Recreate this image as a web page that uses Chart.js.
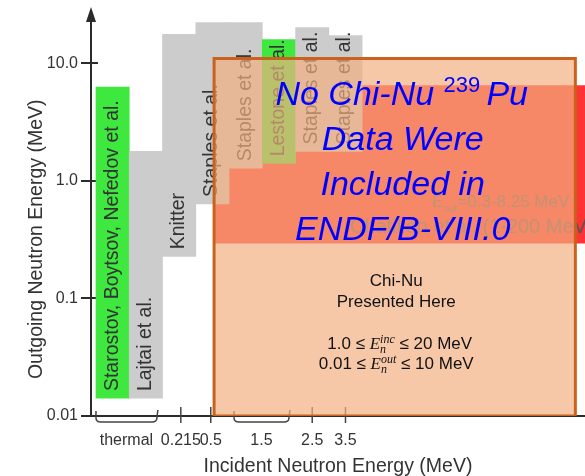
<!DOCTYPE html>
<html>
<head>
<meta charset="utf-8">
<title>Pu-239 PFNS measurements</title>
<script src="https://cdn.jsdelivr.net/npm/chart.js@4.4.1/dist/chart.umd.min.js"></script>
<style>
  html, body { margin: 0; padding: 0; background: #fff; }
  canvas { display: block; }
</style>
</head>
<body>
<canvas id="coverageChart" width="585" height="476"></canvas>
<script>
// one x unit per experiment column on the schematic incident-energy axis
const colNames = ['Starostov, Boytsov, Nefedov et al.', 'Lajtai et al.', 'Knitter', 'Staples et al.',
    'Staples et al.', 'Lestone et al.', 'Staples et al.', 'Staples et al.'];
const colX = [0.5, 1.5, 2.5, 3.5, 4.5, 5.5, 6.5, 7.5];
const colOutLow = [0.0142, 0.0142, 0.228, 0.637, 1.28, 1.41, 1.78, 1.78];
const colOutHigh = [6.28, 1.78, 17.6, 22.2, 22.2, 15.9, 20.1, 17.2];
const colInEndf = [true, false, false, false, false, true, false, false];

// Chatillon et al. (1-200 MeV), Eout 0.3-8.25 MeV
const chatInc = [3.55, 16];
const chatOut = [0.294, 6.5];

// Chi-Nu, presented here
const chiNuInc = [3.55, 14.41];
const chiNuOut = [0.01, 11];

const xTickLabels = ['thermal', '0.215', '0.5', '1.5', '2.5', '3.5'];
const xTickFrom = [0, 2.55, 3.45, 4.15, 6.5, 7.5];
const xTickTo = [1.83, 2.55, 3.45, 5.8, 6.5, 7.5];

const yTickValues = [0.01, 0.1, 1, 10];
const yTickLabels = ['0.01', '0.1', '1.0', '10.0'];

const FONT = '"Liberation Sans", Arial, sans-serif';
const SERIF = '"Liberation Serif", "Times New Roman", serif';
const TEXT = '#333';
const AXIS = '#2b2b2b';
const GREEN = '#3ee83e';
const GRAY = '#cccccc';

Chart.defaults.font.family = FONT;

function rectPoints(xr, yr) {
    return [
        {x: xr[0], y: yr[0]}, {x: xr[0], y: yr[1]},
        {x: xr[1], y: yr[1]}, {x: xr[1], y: yr[0]},
        {x: xr[0], y: yr[0]}
    ];
}

function runWidth(ctx, r) {
    ctx.font = r.font;
    if (r.sup !== undefined) {
        return Math.max(ctx.measureText(r.sup).width, ctx.measureText(r.sub).width);
    }
    return ctx.measureText(r.text).width;
}

function drawRuns(ctx, runs, x, y, align) {
    const widths = runs.map(r => runWidth(ctx, r));
    const total = widths.reduce((a, b) => a + b, 0);
    let cx = align === 'center' ? x - total / 2 : x;
    ctx.textAlign = 'left';
    ctx.textBaseline = 'alphabetic';
    runs.forEach((r, i) => {
        ctx.font = r.font;
        if (r.sup !== undefined) {
            ctx.fillText(r.sup, cx, y - 6.5);
            ctx.fillText(r.sub, cx, y + 4);
        } else {
            ctx.fillText(r.text, cx, y + (r.dy || 0));
        }
        cx += widths[i];
    });
}

const schematicPlugin = {
    id: 'schematic',
    beforeDatasetsDraw(chart) {
        const ctx = chart.ctx;
        const xs = chart.scales.x;
        const ys = chart.scales.y;
        const axisY = ys.bottom;
        const axisX = xs.left;
        ctx.save();
        ctx.strokeStyle = AXIS;
        ctx.fillStyle = AXIS;

        // y tick marks cross the axis
        ctx.lineWidth = 2;
        yTickValues.forEach(v => {
            const py = Math.round(ys.getPixelForValue(v));
            ctx.beginPath();
            ctx.moveTo(axisX, py);
            ctx.lineTo(axisX + 7, py);
            ctx.stroke();
        });

        // arrow head on the y axis
        ctx.beginPath();
        ctx.moveTo(axisX, 7);
        ctx.lineTo(axisX - 5, 22);
        ctx.lineTo(axisX + 5, 22);
        ctx.closePath();
        ctx.fill();

        // x ticks and braces
        ctx.lineWidth = 1.5;
        ctx.strokeStyle = '#444';
        xTickLabels.forEach((lab, i) => {
            const x0 = xs.getPixelForValue(xTickFrom[i]);
            const x1 = xs.getPixelForValue(xTickTo[i]);
            ctx.beginPath();
            if (x1 - x0 < 1) {
                ctx.moveTo(x0, axisY - 9);
                ctx.lineTo(x0, axisY + 7);
            } else {
                ctx.moveTo(x0, axisY - 5);
                ctx.lineTo(x0, axisY + 2);
                ctx.quadraticCurveTo(x0, axisY + 6, x0 + 5, axisY + 6);
                ctx.lineTo(x1 - 5, axisY + 6);
                ctx.quadraticCurveTo(x1, axisY + 6, x1, axisY + 2);
                ctx.lineTo(x1 + 1, axisY - 6);
            }
            ctx.stroke();
            ctx.fillStyle = TEXT;
            ctx.font = '16px ' + FONT;
            ctx.textAlign = 'center';
            ctx.textBaseline = 'alphabetic';
            ctx.fillText(lab, (x0 + x1) / 2, axisY + 29);
        });

        // y title
        ctx.translate(37, (ys.top + ys.bottom) / 2 + 25);
        ctx.rotate(-Math.PI / 2);
        ctx.font = '19.5px ' + FONT;
        ctx.fillStyle = TEXT;
        ctx.textAlign = 'center';
        ctx.textBaseline = 'middle';
        ctx.fillText('Outgoing Neutron Energy (MeV)', 0, 0);
        ctx.restore();
    },
    afterDatasetDraw(chart, args) {
        const ctx = chart.ctx;
        ctx.save();
        if (args.index === 0) {
            // experiment names along each column, reading upwards
            ctx.fillStyle = TEXT;
            ctx.font = '19.5px ' + FONT;
            ctx.textAlign = 'left';
            ctx.textBaseline = 'alphabetic';
            args.meta.data.forEach((bar, i) => {
                const p = bar.getProps(['x', 'base'], true);
                ctx.save();
                ctx.translate(p.x + 5, p.base - 7);
                ctx.rotate(-Math.PI / 2);
                ctx.fillText(colNames[i], 0, 0);
                ctx.restore();
            });
        } else if (args.index === 1) {
            const xs = chart.scales.x;
            const left = xs.getPixelForValue(chatInc[0]);
            ctx.fillStyle = '#555';
            drawRuns(ctx, [
                {text: 'E', font: '17px ' + FONT},
                {text: 'out', font: '10px ' + FONT, dy: 5},
                {text: '=0.3-8.25 MeV', font: '17px ' + FONT}
            ], left + 218, 207, 'left');
            ctx.font = '20px ' + FONT;
            ctx.textAlign = 'left';
            ctx.fillText('Chatillon et al. (1-200 MeV)', left + 136, 233);
        }
        ctx.restore();
    },
    afterDatasetsDraw(chart) {
        const ctx = chart.ctx;
        const xs = chart.scales.x;
        const ys = chart.scales.y;
        const boxLeft = xs.getPixelForValue(chiNuInc[0]);
        const boxRight = xs.getPixelForValue(chiNuInc[1]);
        const boxTop = ys.getPixelForValue(chiNuOut[1]);
        const mid = (boxLeft + boxRight) / 2;
        ctx.save();

        const big = 'italic 34px ' + FONT;
        ctx.fillStyle = '#0000ff';
        drawRuns(ctx, [
            {text: 'No Chi-Nu ', font: big},
            {text: '239', font: '22px ' + FONT, dy: -13},
            {text: ' ', font: '22px ' + FONT},
            {text: 'Pu', font: big}
        ], mid + 7, boxTop + 47, 'center');
        ['Data Were', 'Included in', 'ENDF/B-VIII.0'].forEach((t, i) => {
            drawRuns(ctx, [{text: t, font: big}], mid + 8, boxTop + 92 + i * 44.7, 'center');
        });

        ctx.fillStyle = '#111';
        const sans = '17px ' + FONT;
        drawRuns(ctx, [{text: 'Chi-Nu', font: sans}], mid + 1.5, boxTop + 228, 'center');
        drawRuns(ctx, [{text: 'Presented Here', font: sans}], mid + 1.5, boxTop + 249, 'center');

        const eFont = 'italic 17px ' + SERIF;
        const sFont = 'italic 12px ' + SERIF;
        drawRuns(ctx, [
            {text: '1.0 \u2264 ', font: sans},
            {text: 'E', font: eFont},
            {sup: 'inc', sub: 'n', font: sFont},
            {text: ' \u2264 20 MeV', font: sans}
        ], mid + 5, boxTop + 291, 'center');
        drawRuns(ctx, [
            {text: '0.01 \u2264 ', font: sans},
            {text: 'E', font: eFont},
            {sup: 'out', sub: 'n', font: sFont},
            {text: ' \u2264 10 MeV', font: sans}
        ], mid + 1.5, boxTop + 311, 'center');
        ctx.restore();
    }
};

new Chart(document.getElementById('coverageChart'), {
    type: 'bar',
    data: {
        datasets: [
            {
                type: 'bar',
                label: 'Previous measurements',
                data: colX.map((x, i) => ({x: x, y: [colOutLow[i], colOutHigh[i]]})),
                backgroundColor: colInEndf.map(f => f ? GREEN : GRAY),
                borderWidth: 0,
                categoryPercentage: 1,
                barPercentage: 1,
                order: 2
            },
            {
                type: 'line',
                label: 'Chatillon et al.',
                data: rectPoints(chatInc, chatOut),
                fill: 'shape',
                backgroundColor: '#ff3333',
                borderWidth: 0,
                pointRadius: 0,
                tension: 0,
                order: 3
            },
            {
                type: 'line',
                label: 'Chi-Nu',
                data: rectPoints(chiNuInc, chiNuOut),
                fill: 'shape',
                backgroundColor: 'rgba(242, 175, 129, 0.69)',
                borderColor: '#c9621d',
                borderWidth: 3,
                borderJoinStyle: 'miter',
                pointRadius: 0,
                tension: 0,
                order: 1
            }
        ]
    },
    options: {
        responsive: false,
        animation: false,
        devicePixelRatio: 1,
        layout: {
            padding: {top: 10, right: 0, bottom: 0, left: 0}
        },
        plugins: {
            legend: {display: false},
            tooltip: {enabled: false}
        },
        scales: {
            x: {
                type: 'linear',
                min: -0.15,
                max: 14.7,
                offset: false,
                ticks: {display: false, stepSize: 1, includeBounds: false},
                grid: {display: false, offset: false},
                border: {display: true, color: AXIS, width: 2},
                title: {
                    display: true,
                    text: 'Incident Neutron Energy (MeV)',
                    color: TEXT,
                    font: {size: 19.5, lineHeight: 1},
                    padding: 0
                },
                afterFit: s => { s.height = 60; }
            },
            y: {
                type: 'logarithmic',
                min: 0.01,
                max: 27,
                afterBuildTicks: s => { s.ticks = yTickValues.map(v => ({value: v})); },
                ticks: {
                    callback: (v, i) => yTickLabels[i],
                    color: TEXT,
                    font: {size: 16},
                    padding: 3
                },
                grid: {drawOnChartArea: false, color: AXIS, lineWidth: 2, tickLength: 10},
                border: {color: AXIS, width: 2},
                afterFit: s => { s.width = 91; }
            }
        }
    },
    plugins: [schematicPlugin]
});
</script>
</body>
</html>
